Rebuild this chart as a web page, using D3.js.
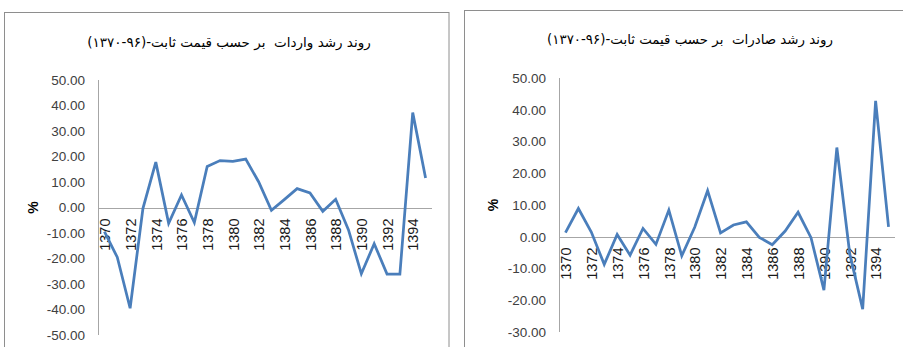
<!DOCTYPE html>
<html>
<head>
<meta charset="utf-8">
<script src="https://cdn.jsdelivr.net/npm/d3@7/dist/d3.min.js"></script>
<style>
  html, body { margin: 0; padding: 0; background: #ffffff; }
  #wrap { position: relative; width: 903px; height: 347px; overflow: hidden; }
  svg { display: block; position: absolute; left: 0; top: 0; }
  .title { position: absolute; direction: rtl; text-align: center; white-space: pre;
           font-family: "DejaVu Sans", sans-serif; line-height: 1; color: #000; }
  .title span { display: inline-block; }
</style>
</head>
<body>
<div id="wrap"><svg id="chart" width="903" height="347"></svg></div>
<script>
// Years (Solar Hijri calendar)
const years = ["1370","1371","1372","1373","1374","1375","1376","1377","1378","1379",
               "1380","1381","1382","1383","1384","1385","1386","1387","1388","1389",
               "1390","1391","1392","1393","1394","1395"];

// Import growth at constant prices (%)
const importGrowth = [-9.5, -19.5, -39.5, -0.3, 17.8, -6.2, 4.9, -5.9, 16.1, 18.4,
                      18.1, 19.0, 10.1, -1.1, 3.1, 7.4, 5.7, -1.5, 3.2, -8.8,
                      -26.0, -14.2, -26.1, -26.1, 37.2, 11.6];

// Export growth at constant prices (%)
const exportGrowth = [1.3, 8.9, 1.5, -8.7, 0.7, -5.8, 2.6, -2.4, 8.4, -6.0,
                      3.0, 14.5, 1.2, 3.7, 4.7, -0.2, -2.5, 1.8, 7.7, -0.3,
                      -16.8, 28.1, -5.4, -22.8, 42.8, 3.1];

// Axis tick values
const importTicks = [50, 40, 30, 20, 10, 0, -10, -20, -30, -40, -50];
const exportTicks = [50, 40, 30, 20, 10, 0, -10, -20, -30];
const yearLabels = ["1370","1372","1374","1376","1378","1380","1382","1384","1386","1388","1390","1392","1394"];

// Titles
const importTitle = "روند رشد واردات  بر حسب قیمت ثابت-(۹۶-۱۳۷۰)";
const exportTitle = "روند رشد صادرات  بر حسب قیمت ثابت-(۹۶-۱۳۷۰)";

const fmt = d3.formatLocale({decimal: ".", thousands: ",", grouping: [3], currency: ["", ""], minus: "-"}).format(".2f");

const svg = d3.select("#chart");
const wrap = d3.select("#wrap");

function drawPanel(cfg) {
  const g = svg.append("g");

  // outer frame of the panel
  g.append("rect")
    .attr("x", cfg.frame.x).attr("y", cfg.frame.y)
    .attr("width", cfg.frame.w).attr("height", cfg.frame.h)
    .attr("fill", "#ffffff").attr("stroke", "#8e8e8e").attr("stroke-width", 1);

  const x = d3.scalePoint().domain(years).range([cfg.x0, cfg.x1]).padding(0.5);
  const y = d3.scaleLinear().domain([cfg.ticks[cfg.ticks.length - 1], cfg.ticks[0]]).range([cfg.yBottom, cfg.yTop]);

  // title (HTML so the right-to-left text is shaped and measured properly)
  const tDiv = wrap.append("div").attr("class", "title")
    .style("left", (cfg.titleX - 250) + "px").style("width", "500px")
    .style("font-size", "16px");
  const span = tDiv.append("span").text(cfg.title);
  const w16 = span.node().getBoundingClientRect().width;
  const fs = 16 * cfg.titleWidth / w16;
  tDiv.style("font-size", fs + "px").style("top", (cfg.titleMid - 0.62 * fs) + "px");

  // value axis line
  g.append("line")
    .attr("x1", cfg.x0 + 0.5).attr("x2", cfg.x0 + 0.5)
    .attr("y1", cfg.yTop).attr("y2", cfg.yBottom)
    .attr("stroke", "#a6a6a6").attr("stroke-width", 1);

  // value axis labels
  const yAxis = d3.axisLeft(y).tickValues(cfg.ticks).tickFormat(fmt).tickSize(0).tickPadding(13);
  const ya = g.append("g").attr("transform", `translate(${cfg.x0},0)`).call(yAxis);
  ya.select(".domain").remove();
  ya.selectAll("text")
    .attr("font-family", "Liberation Sans, Arial, sans-serif")
    .attr("font-size", 13.5)
    .attr("fill", "#404040");

  // category axis at zero
  const y0 = Math.round(y(0)) + 0.5;
  g.append("line")
    .attr("x1", cfg.x0).attr("x2", cfg.x1)
    .attr("y1", y0).attr("y2", y0)
    .attr("stroke", "#a6a6a6").attr("stroke-width", 1);

  const xAxis = d3.axisBottom(x).tickValues(yearLabels).tickSize(0).tickPadding(0);
  const xa = g.append("g").attr("transform", `translate(0,${y0})`).call(xAxis);
  xa.select(".domain").remove();
  xa.selectAll("text")
    .attr("font-family", "Liberation Sans, Arial, sans-serif")
    .attr("font-size", 14.5)
    .attr("fill", "#1a1a1a")
    .attr("text-anchor", "end")
    .attr("transform", "rotate(-90)")
    .attr("x", -10)
    .attr("y", 0)
    .attr("dy", "0.36em");

  // axis title
  g.append("text")
    .attr("transform", `translate(${cfg.unitX},${(cfg.yTop + cfg.yBottom) / 2}) rotate(-90)`)
    .attr("text-anchor", "middle")
    .attr("dy", "0.35em")
    .attr("font-family", "Liberation Sans, Arial, sans-serif")
    .attr("font-weight", "bold")
    .attr("font-size", 14)
    .attr("fill", "#000")
    .text("%");

  // series line
  const line = d3.line()
    .x((d, i) => x(years[i]))
    .y(d => y(d));
  g.append("path")
    .datum(cfg.values)
    .attr("d", line)
    .attr("fill", "none")
    .attr("stroke", "#4a7ebb")
    .attr("stroke-width", 2.75)
    .attr("stroke-linejoin", "miter")
    .attr("stroke-miterlimit", 4);
}

drawPanel({
  frame: {x: 4.5, y: 12.5, w: 444.5, h: 360},
  x0: 98, x1: 432, yTop: 80, yBottom: 335,
  ticks: importTicks,
  values: importGrowth,
  title: importTitle, titleX: 229, titleMid: 44, titleWidth: 284,
  unitX: 33
});

drawPanel({
  frame: {x: 464.5, y: 10.5, w: 460, h: 360},
  x0: 559, x1: 895, yTop: 78, yBottom: 332,
  ticks: exportTicks,
  values: exportGrowth,
  title: exportTitle, titleX: 690, titleMid: 41, titleWidth: 286,
  unitX: 493
});
</script>
</body>
</html>
